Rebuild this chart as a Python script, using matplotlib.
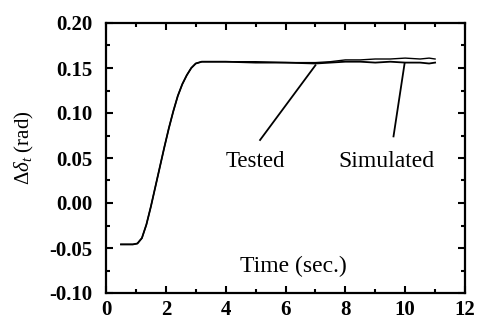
import matplotlib
matplotlib.use("Agg")
import matplotlib.pyplot as plt
from matplotlib.ticker import MultipleLocator

time = [0.5, 0.9, 1.05, 1.2, 1.35, 1.5, 1.65, 1.8, 1.95, 2.1, 2.25, 2.4, 2.55, 2.7,
        2.85, 3.0, 3.2, 3.6, 4.0, 5.0, 6.0, 7.0, 7.5, 8.0, 8.5, 9.0, 9.5, 10.0,
        10.5, 10.8, 11.0]
tested = [-0.046, -0.046, -0.045, -0.039, -0.024, -0.004, 0.018, 0.040, 0.062,
          0.083, 0.102, 0.119, 0.132, 0.142, 0.150, 0.155, 0.157, 0.157, 0.157,
          0.156, 0.156, 0.155, 0.156, 0.157, 0.157, 0.156, 0.157, 0.156, 0.156,
          0.155, 0.156]
simulated = [-0.046, -0.046, -0.045, -0.039, -0.024, -0.004, 0.018, 0.040, 0.062,
             0.083, 0.102, 0.119, 0.132, 0.142, 0.150, 0.155, 0.157, 0.157, 0.157,
             0.157, 0.156, 0.156, 0.157, 0.159, 0.159, 0.160, 0.160, 0.161, 0.160,
             0.161, 0.160]

xlim = (0, 12)
ylim = (-0.10, 0.20)
yticks = [-0.10, -0.05, 0.00, 0.05, 0.10, 0.15, 0.20]
xticks = [0, 2, 4, 6, 8, 10, 12]

serif = ["Liberation Serif", "DejaVu Serif"]
plt.rcParams["font.family"] = serif
plt.rcParams["mathtext.fontset"] = "custom"
plt.rcParams["mathtext.rm"] = "Liberation Serif"
plt.rcParams["mathtext.it"] = "Liberation Serif:italic"

fig = plt.figure(figsize=(4.78, 3.23), dpi=100)
ax = fig.add_axes([106/478, 1 - 293/323, (465-106)/478, (293-23)/323])

ax.plot(time, tested, color="black", lw=1.3)
ax.plot(time, simulated, color="black", lw=1.0)

ax.set_xlim(*xlim)
ax.set_ylim(*ylim)
ax.set_xticks(xticks)
ax.set_yticks(yticks)
ax.set_yticklabels([f"{v:.2f}" for v in yticks])
ax.xaxis.set_minor_locator(MultipleLocator(1))
ax.yaxis.set_minor_locator(MultipleLocator(0.025))
ax.tick_params(which="both", direction="in", top=True, right=True, width=1.5)
ax.tick_params(which="major", length=5, labelsize=15)
ax.tick_params(axis="y", which="major", pad=10)
ax.tick_params(axis="x", which="major", pad=5)
ax.tick_params(which="minor", length=3)
for lab in ax.get_xticklabels() + ax.get_yticklabels():
    lab.set_fontweight("bold")
for s in ax.spines.values():
    s.set_linewidth(1.6)

ax.text(6.26, -0.0705, "Time (sec.)", ha="center", va="center", fontsize=17)
ax.text(5.0, 0.046, "Tested", ha="center", va="center", fontsize=16.5)
ax.text(9.36, 0.046, "Simulated", ha="center", va="center", fontsize=17)
ax.plot([5.15, 7.0], [0.070, 0.153], color="black", lw=1.3)
ax.plot([9.61, 9.98], [0.074, 0.155], color="black", lw=1.3)

fig.text(24/478, 1 - 148/323, r"$\Delta\delta_t$ (rad)", rotation=90,
         ha="center", va="center", fontsize=15)

fig.savefig("out.png", dpi=100)
